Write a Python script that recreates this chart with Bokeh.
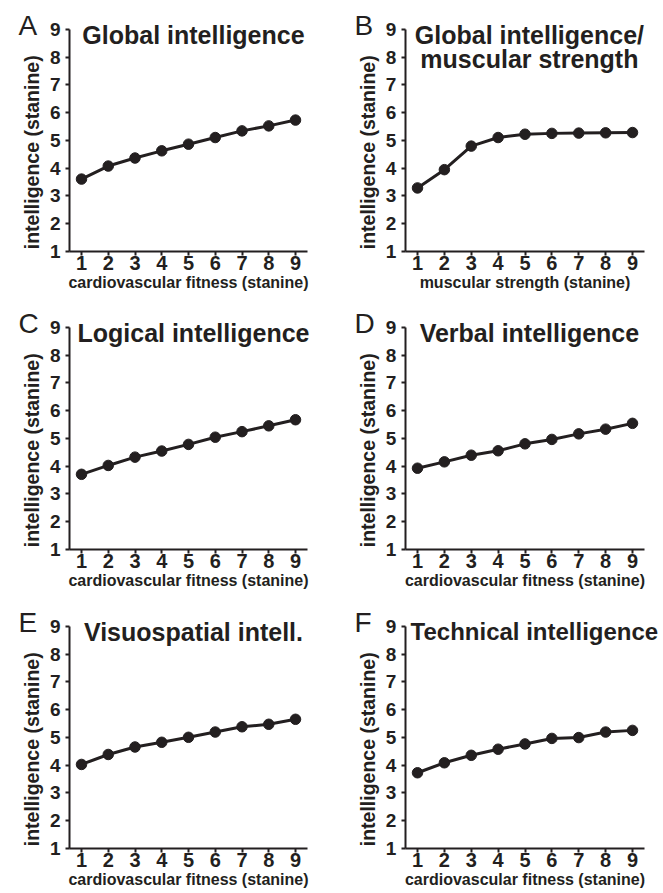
import math
from bokeh.plotting import figure
from bokeh.models import Label, FixedTicker, Range1d
from bokeh.layouts import column, row
from bokeh.embed import file_html
from bokeh.resources import INLINE

# ---------------- data ----------------
stanine = [1, 2, 3, 4, 5, 6, 7, 8, 9]
y_ticks = [1, 2, 3, 4, 5, 6, 7, 8, 9]

global_cardio = [3.60, 4.07, 4.36, 4.62, 4.86, 5.10, 5.34, 5.52, 5.73]
global_muscular = [3.28, 3.94, 4.79, 5.10, 5.22, 5.25, 5.26, 5.27, 5.28]
logical_cardio = [3.70, 4.02, 4.32, 4.54, 4.78, 5.04, 5.24, 5.45, 5.67]
verbal_cardio = [3.92, 4.15, 4.39, 4.55, 4.80, 4.96, 5.16, 5.33, 5.54]
visuospatial_cardio = [4.02, 4.38, 4.65, 4.82, 5.00, 5.19, 5.38, 5.47, 5.65]
technical_cardio = [3.72, 4.08, 4.35, 4.57, 4.76, 4.96, 4.99, 5.19, 5.25]

panel_letters = ["A", "B", "C", "D", "E", "F"]
panel_titles = [
    ["Global intelligence"],
    ["Global intelligence/", "muscular strength"],
    ["Logical intelligence"],
    ["Verbal intelligence"],
    ["Visuospatial intell."],
    ["Technical intelligence"],
]
x_labels = [
    "cardiovascular fitness (stanine)",
    "muscular strength (stanine)",
    "cardiovascular fitness (stanine)",
    "cardiovascular fitness (stanine)",
    "cardiovascular fitness (stanine)",
    "cardiovascular fitness (stanine)",
]
y_label = "intelligence (stanine)"
series = [global_cardio, global_muscular, logical_cardio,
          verbal_cardio, visuospatial_cardio, technical_cardio]

# ---------------- layout / style ----------------
INK = "#231f20"
FONT = "Liberation Sans"
X_AXIS_START, X_AXIS_END = 0.55, 9.45
Y_AXIS_START, Y_AXIS_END = 1, 9

COL_WIDTHS = [343, 320]
COL_X1_PX = [81, 74]          # pixel position of x=1 inside each column figure
COL_PPU_X = [26.75, 26.875]   # pixels per stanine unit (x)
ROW_HEIGHTS = [299, 299, 295]
ROW_Y9_PX = [29, 28, 28]      # pixel position of y=9 from the top of each figure
PPU_Y = 27.7


def make_panel(i):
    c = i % 2
    r = i // 2
    w, h = COL_WIDTHS[c], ROW_HEIGHTS[r]
    x1, ppx = COL_X1_PX[c], COL_PPU_X[c]
    y9 = ROW_Y9_PX[r]
    x_rng = Range1d(1 - x1 / ppx, 1 + (w - x1) / ppx)
    y_rng = Range1d(9 - (h - y9) / PPU_Y, 9 + y9 / PPU_Y)

    p = figure(
        width=w, height=h, x_range=x_rng, y_range=y_rng, title=None,
        output_backend="svg", toolbar_location=None, tools="",
        min_border=0, background_fill_color="white", border_fill_color="white",
    )
    p.outline_line_color = None
    p.xgrid.grid_line_color = None
    p.ygrid.grid_line_color = None

    for ax in (p.xaxis, p.yaxis):
        ax.axis_line_color = INK
        ax.axis_line_width = 2
        ax.major_tick_line_color = INK
        ax.major_tick_line_width = 2
        ax.major_tick_in = 0
        ax.major_tick_out = 4
        ax.minor_tick_line_color = None
        ax.major_label_text_font = FONT
        ax.major_label_text_font_style = "bold"
        ax.major_label_text_color = INK

    xa = p.xaxis[0]
    ya = p.yaxis[0]
    xa.ticker = FixedTicker(ticks=stanine)
    ya.ticker = FixedTicker(ticks=y_ticks)
    xa.fixed_location = Y_AXIS_START
    ya.fixed_location = X_AXIS_START
    xa.bounds = (X_AXIS_START, X_AXIS_END)
    ya.bounds = (Y_AXIS_START, Y_AXIS_END)
    xa.major_label_text_font_size = "20px"
    ya.major_label_text_font_size = "19px"
    xa.major_label_standoff = 1
    ya.major_label_standoff = 5

    xa.axis_label = x_labels[i]
    xa.axis_label_text_font = FONT
    xa.axis_label_text_font_style = "bold"
    xa.axis_label_text_font_size = "16px"
    xa.axis_label_text_color = INK
    xa.axis_label_standoff = 0

    # y axis label
    p.add_layout(Label(
        x=X_AXIS_START, y=(Y_AXIS_START + Y_AXIS_END) / 2, text=y_label,
        angle=math.pi / 2, text_align="center", text_baseline="middle",
        x_offset=-37, y_offset=-12,
        text_font=FONT, text_font_style="bold", text_font_size="19.5px",
        text_color=INK,
    ))

    # panel letter
    p.add_layout(Label(
        x=X_AXIS_START, y=Y_AXIS_END, text=panel_letters[i],
        text_align="left", text_baseline="middle",
        x_offset=-51, y_offset=4,
        text_font=FONT, text_font_size="28px", text_color=INK,
    ))

    # title
    title_size = "24px" if i == 5 else "25px"
    title_dx = 129 if i == 5 else 124
    for k, line in enumerate(panel_titles[i]):
        p.add_layout(Label(
            x=X_AXIS_START, y=Y_AXIS_END, text=line,
            text_align="center", text_baseline="middle",
            x_offset=title_dx, y_offset=-(5 + 24 * k),
            text_font=FONT, text_font_style="bold", text_font_size=title_size,
            text_color=INK,
        ))

    vals = series[i]
    p.line(stanine, vals, line_width=3, line_color=INK)
    p.scatter(stanine, vals, marker="circle", size=10.5,
              fill_color=INK, line_color=INK)
    return p


panels = [make_panel(i) for i in range(6)]
layout = column(
    row(panels[0], panels[1]),
    row(panels[2], panels[3]),
    row(panels[4], panels[5]),
)

open("out.html", "w").write(file_html(layout, INLINE))
